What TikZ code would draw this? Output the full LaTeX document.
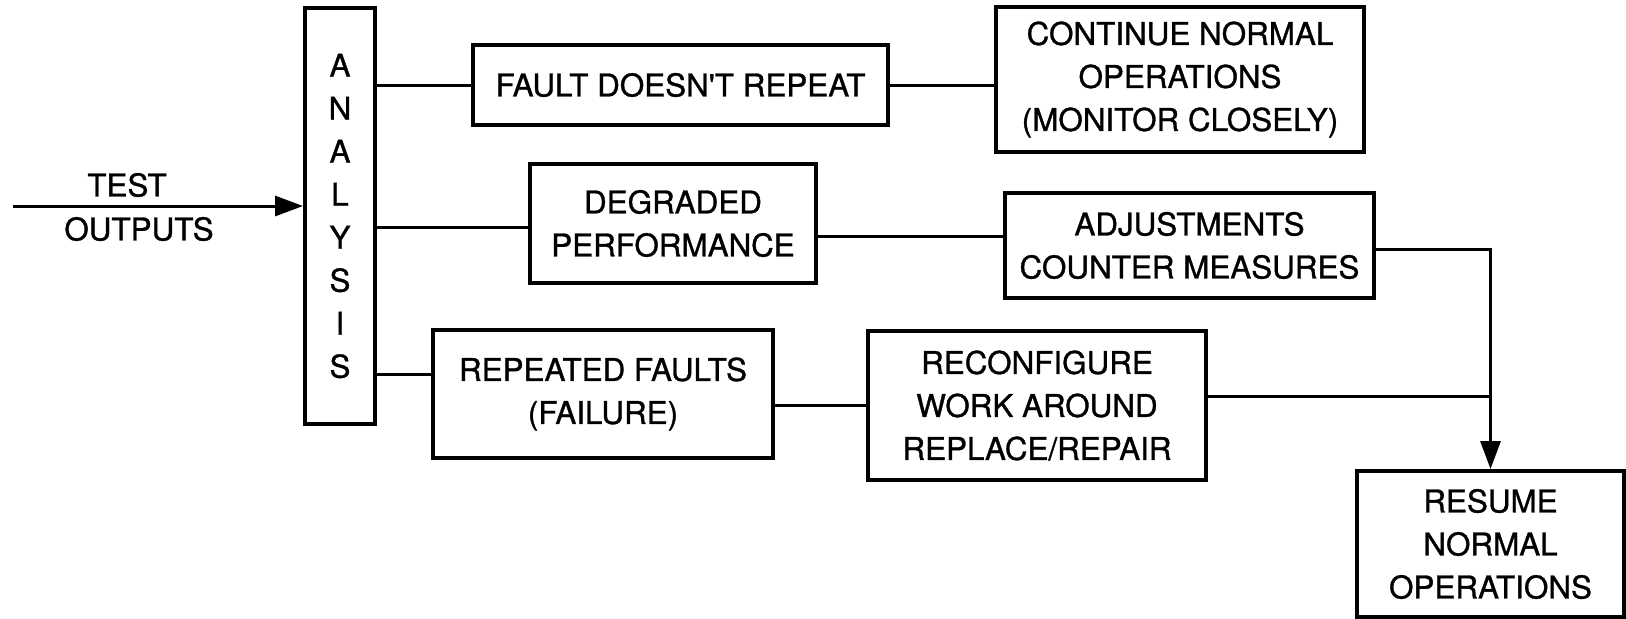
\documentclass[tikz,border=0pt]{standalone}
\usepackage{fontspec}
\setmainfont{TeX Gyre Heros}
\newfontface\heavyfont{TeX Gyre Heros}[FakeBold=1.0]
\usetikzlibrary{arrows.meta}
\begin{document}
\begin{tikzpicture}[x=0.5pt,y=-0.5pt,
  boxnode/.style={draw, line width=2pt, inner sep=0pt, align=center,
    font=\heavyfont\fontsize{15.7}{21.5}\selectfont},
  lbl/.style={inner sep=0pt, font=\heavyfont\fontsize{15.7}{21.5}\selectfont},
  conn/.style={line width=1.5pt},
  arr/.style={line width=1.5pt, -{Triangle[length=14pt,width=10pt]}}]
\useasboundingbox (0,0) rectangle (1626,618);
% boxes
\node[boxnode, minimum width=35pt, minimum height=208pt] (analysis) at (340,216)
  {A\\N\\A\\L\\Y\\S\\I\\S};
\node[boxnode, minimum width=207.5pt, minimum height=40pt] (fault) at (680.5,85)
  {FAULT DOESN\symbol{39}T REPEAT};
\node[boxnode, minimum width=184pt, minimum height=72.5pt] (cont) at (1180,79.5)
  {CONTINUE NORMAL\\OPERATIONS\\(MONITOR CLOSELY)};
\node[boxnode, minimum width=143pt, minimum height=59.5pt] (degr) at (673,223.5)
  {DEGRADED\\PERFORMANCE};
\node[boxnode, minimum width=184.5pt, minimum height=52.5pt] (adj) at (1189.5,245.5)
  {ADJUSTMENTS\\COUNTER MEASURES};
\node[boxnode, minimum width=170pt, minimum height=64pt] (rep) at (603,394)
  {REPEATED FAULTS\\(FAILURE)};
\node[boxnode, minimum width=169pt, minimum height=74.5pt] (reconf) at (1037,405.5)
  {RECONFIGURE\\WORK AROUND\\REPLACE/REPAIR};
\node[boxnode, minimum width=133.5pt, minimum height=73pt] (resume) at (1490.5,544)
  {RESUME\\NORMAL\\OPERATIONS};
% labels
\node[lbl] (testlbl) at (127,185) {TEST};
\node[lbl] (outlbl) at (139,229) {OUTPUTS};
% row coordinates
\coordinate (tin) at (13,206);
\coordinate (rowD) at (0,227);
\coordinate (rowDA) at (0,236);
\coordinate (rowR) at (0,374);
\coordinate (rowAX) at (0,249);
\coordinate (rowRX) at (0,396);
% connectors
\draw[arr] (tin) -- (analysis.west |- tin);
\draw[conn] (analysis.east |- fault.west) -- (fault.west);
\draw[conn] (fault.east) -- (cont.west |- fault.east);
\draw[conn] (analysis.east |- rowD) -- (degr.west |- rowD);
\draw[conn] (degr.east |- rowDA) -- (adj.west |- rowDA);
\draw[conn] (analysis.east |- rowR) -- (rep.west |- rowR);
\draw[conn] (rep.east |- reconf.west) -- (reconf.west);
\draw[arr] (adj.east |- rowAX) -| (resume.north);
\draw[conn] (reconf.east |- rowRX) -- (resume.north |- rowRX);
\end{tikzpicture}
\end{document}
